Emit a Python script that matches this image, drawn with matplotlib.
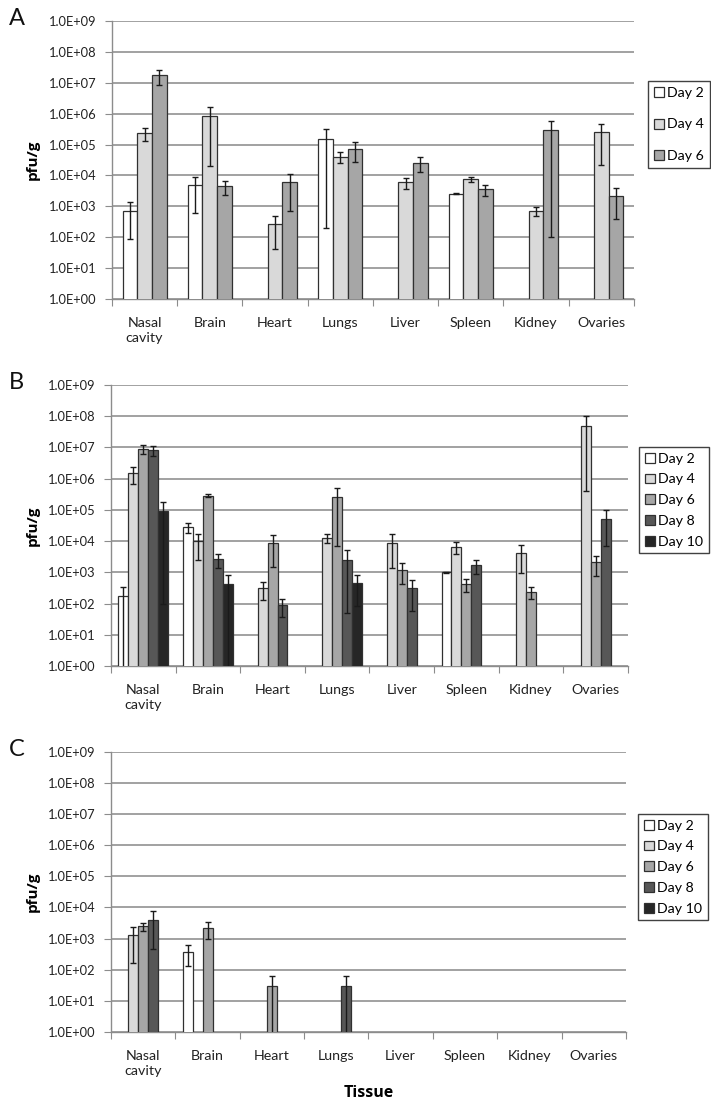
import numpy as np
import matplotlib
matplotlib.use("Agg")
import matplotlib.pyplot as plt
from matplotlib.patches import Patch

nan = np.nan
tissues = ["Nasal\ncavity", "Brain", "Heart", "Lungs", "Liver", "Spleen", "Kidney", "Ovaries"]

# Panel A (Day 2, 4, 6)
a_days = ["Day 2", "Day 4", "Day 6"]
a_d2 = [720, 4.8e3, nan, 1.55e5, nan, 2.6e3, nan, nan]
a_d2_err = [630, 4.2e3, nan, 1.548e5, nan, 100, nan, nan]
a_d4 = [2.35e5, 8.4e5, 274, 4.1e4, 6.1e3, 7.6e3, 700, 2.5e5]
a_d4_err = [1.0e5, 8.2e5, 231, 1.6e4, 2.5e3, 1.5e3, 230, 2.28e5]
a_d6 = [1.74e7, 4.4e3, 6.1e3, 7.3e4, 2.6e4, 3.6e3, 2.95e5, 2.1e3]
a_d6_err = [9.0e6, 2.0e3, 5.4e3, 4.5e4, 1.3e4, 1.4e3, 2.949e5, 1.7e3]

# Panel B (Day 2 ... Day 10)
b_days = ["Day 2", "Day 4", "Day 6", "Day 8", "Day 10"]
b_d2 = [175, 2.76e4, nan, nan, nan, 1000, nan, nan]
b_d2_err = [175, 1.0e4, nan, nan, nan, 40, nan, nan]
b_d4 = [1.48e6, 9.8e3, 309, 1.29e4, 8.9e3, 6.5e3, 4.17e3, 5.0e7]
b_d4_err = [8.0e5, 7.3e3, 180, 4.3e3, 7.56e3, 2.6e3, 3.24e3, 4.96e7]
b_d6 = [9.1e6, 2.87e5, 8.5e3, 2.5e5, 1.22e3, 415, 240, 2.1e3]
b_d6_err = [3.0e6, 3.0e4, 7.0e3, 2.43e5, 800, 180, 105, 1.35e3]
b_d8 = [8.1e6, 2.7e3, 90, 2.55e3, 309, 1.66e3, nan, 5.2e4]
b_d8_err = [2.8e6, 1.3e3, 52, 2.5e3, 250, 800, nan, 4.5e4]
b_d10 = [9.2e4, 425, nan, 456, nan, nan, nan, nan]
b_d10_err = [9.19e4, 425, nan, 370, nan, nan, nan, nan]

# Panel C (Day 2 ... Day 10)
c_days = ["Day 2", "Day 4", "Day 6", "Day 8", "Day 10"]
c_d2 = [nan, 370, nan, nan, nan, nan, nan, nan]
c_d2_err = [nan, 235, nan, nan, nan, nan, nan, nan]
c_d4 = [1.3e3, nan, nan, nan, nan, nan, nan, nan]
c_d4_err = [1.14e3, nan, nan, nan, nan, nan, nan, nan]
c_d6 = [2.5e3, 2.2e3, 31, nan, nan, nan, nan, nan]
c_d6_err = [700, 1.2e3, 31, nan, nan, nan, nan, nan]
c_d8 = [4.0e3, nan, nan, 31, nan, nan, nan, nan]
c_d8_err = [3.55e3, nan, nan, 31, nan, nan, nan, nan]
c_d10 = [nan] * 8
c_d10_err = [nan] * 8

day_colors = {"Day 2": "#ffffff", "Day 4": "#d9d9d9", "Day 6": "#a6a6a6",
              "Day 8": "#575757", "Day 10": "#262626"}

narrow = ["Lato", "DejaVu Sans"]
boldf = ["Open Sans", "DejaVu Sans"]

fig = plt.figure(figsize=(7.11, 11.03), dpi=100)

yticks = [10.0 ** k for k in range(0, 10)]
ylabels = ["1.0E+%02d" % k for k in range(0, 10)]


def panel(rect, days, vals, errs, barw, letter, leg_rect, xlabel=False):
    ax = fig.add_axes(rect)
    n = len(days)
    x = np.arange(len(tissues))
    for i, (d, v, e) in enumerate(zip(days, vals, errs)):
        off = (i - (n - 1) / 2) * barw
        v = np.array(v, dtype=float)
        e = np.array(e, dtype=float)
        ax.bar(x + off, v, width=barw, color=day_colors[d], edgecolor="#303030",
               linewidth=0.9, zorder=3, label=d)
        ax.errorbar(x + off, v, yerr=e, fmt="none", ecolor="#1a1a1a",
                    elinewidth=1.0, capsize=2.5, capthick=1.0, zorder=4)
    ax.set_yscale("log")
    ax.set_ylim(1, 1e9)
    ax.set_xlim(-0.5, len(tissues) - 0.5)
    ax.set_yticks(yticks)
    ax.set_yticklabels(ylabels, fontfamily=narrow, fontsize=9.3, color="#222222")
    ax.yaxis.set_minor_locator(matplotlib.ticker.NullLocator())
    ax.grid(axis="y", color="#9a9a9a", linewidth=1.3, zorder=0)
    ax.set_axisbelow(True)
    for s in ["top", "right"]:
        ax.spines[s].set_visible(False)
    for s in ["left", "bottom"]:
        ax.spines[s].set_color("#8c8c8c")
        ax.spines[s].set_linewidth(1.0)
    ax.tick_params(axis="y", length=5, color="#8c8c8c", pad=6)
    ax.set_xticks(np.arange(len(tissues) + 1) - 0.5)
    ax.set_xticklabels([])
    ax.tick_params(axis="x", length=5, color="#8c8c8c", direction="out")
    for j, t in enumerate(tissues):
        ax.text(j, -0.063, t, transform=ax.get_xaxis_transform(), ha="center", va="top",
                fontfamily=narrow, fontsize=10.3, color="#222222", linespacing=1.3)
    ax.set_ylabel("pfu/g", fontfamily=boldf, fontweight="bold", fontsize=11, labelpad=8)
    ax.yaxis.set_label_coords(72 / 711 - rect[0] + 0.0, 0.5)
    ax.yaxis.label.set_transform(matplotlib.transforms.blended_transform_factory(
        fig.transFigure, ax.transAxes))
    ax.yaxis.label.set_position((40 / 711, 0.5))
    fig.text(0.012, rect[1] + rect[3] + 0.002, letter, fontfamily=narrow, fontsize=17,
             ha="left", va="center", color="#111111")
    handles = [Patch(facecolor=day_colors[d], edgecolor="#303030", linewidth=0.9) for d in days]
    leg = fig.legend(handles, days, loc="upper left", bbox_to_anchor=leg_rect,
                     bbox_transform=fig.transFigure, frameon=True, fancybox=False,
                     edgecolor="#111111", handlelength=0.7, handleheight=0.7,
                     handletextpad=0.25, borderpad=0.4, borderaxespad=0.0,
                     labelspacing=(1.4 if n == 3 else 0.62),
                     prop={"family": narrow, "size": 10.2})
    leg.get_frame().set_linewidth(1.0)
    if xlabel:
        ax.text(0.5, -0.19, "Tissue", transform=ax.transAxes, ha="center", va="top",
                fontfamily=boldf, fontweight="bold", fontsize=11.5)
    return ax


panel([0.1575, 0.7289, 0.734, 0.2520], a_days,
      [a_d2, a_d4, a_d6], [a_d2_err, a_d4_err, a_d6_err], 0.225, "A",
      (648 / 711, 1 - 81 / 1103))
panel([0.1561, 0.3962, 0.7271, 0.2548], b_days,
      [b_d2, b_d4, b_d6, b_d8, b_d10], [b_d2_err, b_d4_err, b_d6_err, b_d8_err, b_d10_err],
      0.154, "B", (639 / 711, 1 - 447 / 1103))
panel([0.1561, 0.0644, 0.7243, 0.2539], c_days,
      [c_d2, c_d4, c_d6, c_d8, c_d10], [c_d2_err, c_d4_err, c_d6_err, c_d8_err, c_d10_err],
      0.154, "C", (638 / 711, 1 - 814 / 1103), xlabel=True)

fig.savefig("out.png", dpi=100)
